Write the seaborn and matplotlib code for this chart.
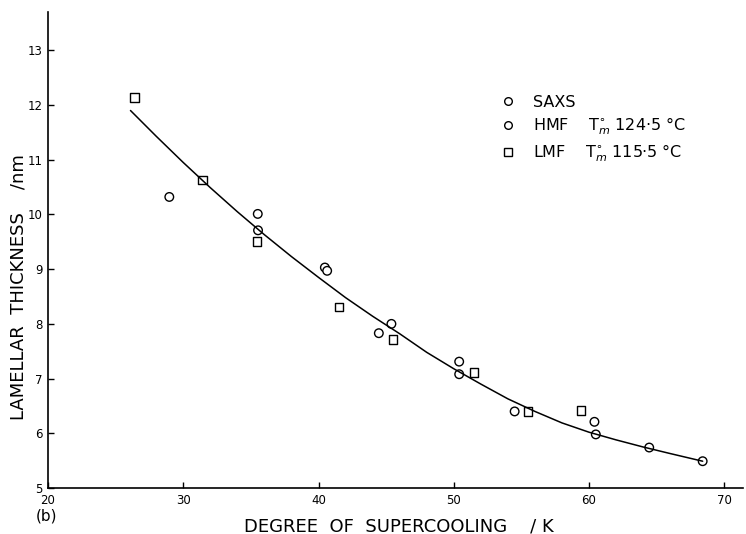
import numpy as np
import pandas as pd
import matplotlib
matplotlib.use("Agg")
import matplotlib.pyplot as plt
import seaborn as sns

# values
saxs_x = [28.97, 35.51, 40.47, 45.39, 50.4, 60.4]
saxs_y = [10.32, 10.01, 9.03, 8.00, 7.31, 6.21]

hmf_x = [35.53, 40.64, 44.46, 50.4, 54.5, 60.5, 64.45, 68.4]
hmf_y = [9.71, 8.97, 7.83, 7.08, 6.40, 5.98, 5.74, 5.49]

lmf_x = [26.4, 31.44, 35.46, 41.5, 45.52, 51.5, 55.5, 59.4]
lmf_y = [12.14, 10.63, 9.51, 8.31, 7.71, 7.11, 6.40, 6.42]

# fitted curve
curve_x = [26.1, 28, 30, 32, 34, 36, 38, 40, 42, 44, 46, 48, 50, 52, 54, 56, 58, 60, 62, 64, 66, 68.4]
curve_y = [11.90, 11.43, 10.95, 10.49, 10.05, 9.63, 9.23, 8.85, 8.48, 8.14, 7.82, 7.48, 7.18,
           6.90, 6.63, 6.40, 6.19, 6.02, 5.88, 5.75, 5.63, 5.49]

series_labels = ["SAXS",
                 r"HMF    T$_{m}^{\circ}$ 124·5 °C",
                 r"LMF    T$_{m}^{\circ}$ 115·5 °C"]

df = pd.DataFrame({
    "dT": saxs_x + hmf_x + lmf_x,
    "L": saxs_y + hmf_y + lmf_y,
    "set": [series_labels[0]] * len(saxs_x) + [series_labels[1]] * len(hmf_x)
           + [series_labels[2]] * len(lmf_x),
})
curve = pd.DataFrame({"dT": curve_x, "L": curve_y})

sns.set_style("ticks")
plt.rcParams["font.family"] = ["DejaVu Sans"]
plt.rcParams.update({"text.color": "black", "axes.labelcolor": "black",
                     "xtick.color": "black", "ytick.color": "black"})

fig = plt.figure(figsize=(7.46, 5.34), dpi=100)
ax = fig.add_axes([0.0643, 0.0861, 0.932, 0.8914])

sns.lineplot(data=curve, x="dT", y="L", color="black", lw=1.1, ax=ax,
             sort=False, legend=False)
sns.scatterplot(data=df, x="dT", y="L", style="set", hue="set",
                palette=["white"] * 3,
                markers={series_labels[0]: "o", series_labels[1]: "o", series_labels[2]: "s"},
                s=38, edgecolor="black", linewidth=1.0, ax=ax)

ax.set_xlim(20, 71.4)
ax.set_ylim(5, 13.7)
ax.set_xticks([20, 30, 40, 50, 60, 70])
ax.set_yticks(range(5, 14))
ax.tick_params(direction="in", length=4, width=1, colors="black", labelsize=8.5, pad=4)
sns.despine(ax=ax)
for sp in ["left", "bottom"]:
    ax.spines[sp].set_linewidth(1.2)
    ax.spines[sp].set_color("black")

ax.set_xlabel("DEGREE  OF  SUPERCOOLING    / K", fontsize=13, color="black")
ax.set_ylabel("LAMELLAR  THICKNESS    /nm", fontsize=13, color="black")
ax.xaxis.label.set_va("center")
ax.yaxis.label.set_va("center")
ax.xaxis.set_label_coords(0.504, -0.080)
ax.yaxis.set_label_coords(-0.043, 0.423)

fig.text(0.048, 0.033, "(b)", fontsize=11, va="center", color="black")

handles, labels = ax.get_legend_handles_labels()
for h in handles:
    h.set_markersize(5.5)
    h.set_markeredgecolor("black")
    h.set_markerfacecolor("white")
leg = ax.legend(handles, labels, frameon=False, loc="upper left",
                bbox_to_anchor=(0.629, 0.840), fontsize=11.5, handletextpad=0.6,
                labelspacing=0.35, borderaxespad=0)
for t in leg.get_texts():
    t.set_color("black")

fig.savefig("out.png", dpi=100)
